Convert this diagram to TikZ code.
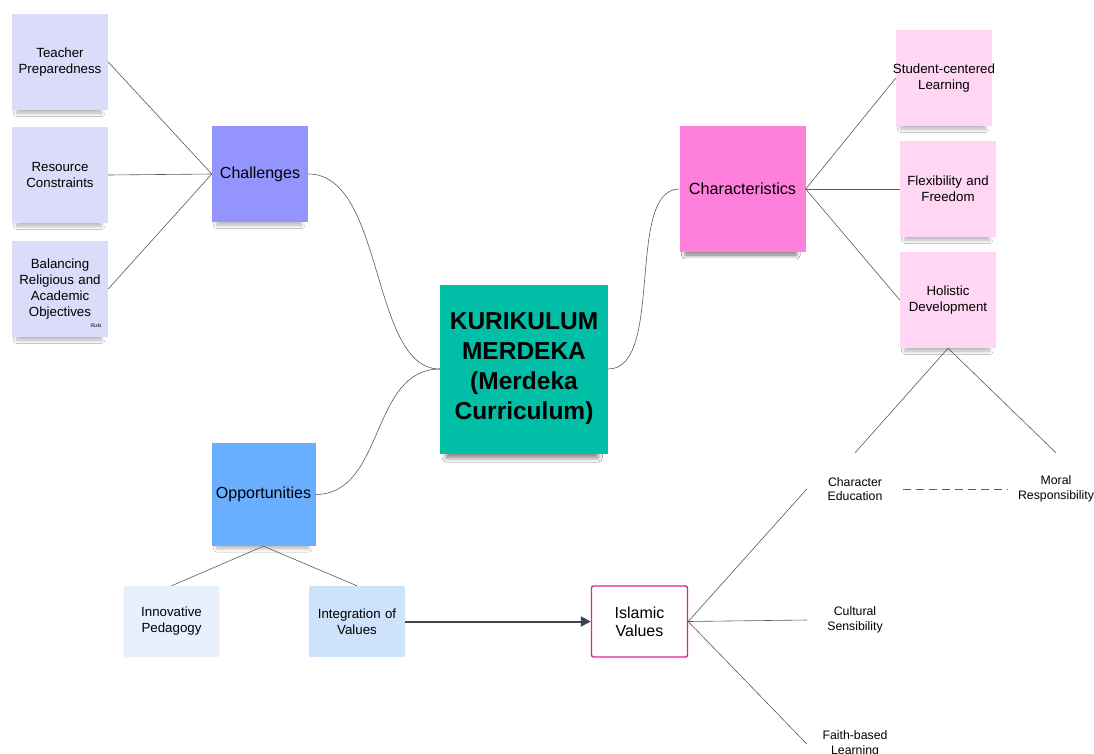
\documentclass[tikz,border=0pt]{standalone}
\usepackage{fontspec}
\setmainfont{Liberation Sans}
\usetikzlibrary{arrows.meta,shadows.blur}
\definecolor{lav}{HTML}{DCDCFA}
\definecolor{chal}{HTML}{9494FF}
\definecolor{teal}{HTML}{00BFA6}
\definecolor{charc}{HTML}{FF80DA}
\definecolor{pinkn}{HTML}{FFD6F3}
\definecolor{opp}{HTML}{6AAEFF}
\definecolor{innov}{HTML}{E8F0FE}
\definecolor{integ}{HTML}{CFE2FC}
\definecolor{islam}{HTML}{E0209F}
\definecolor{arrowc}{HTML}{3D4450}
\definecolor{linec}{HTML}{5A5A5A}
\tikzset{
  sticky/.style={minimum width=96pt, minimum height=96pt, inner sep=1pt, align=center, text width=94pt,
    font=\fontsize{13.3}{16}\selectfont,
    blur shadow={shadow xshift=-1pt, shadow yshift=-10pt, shadow blur steps=10, shadow blur radius=4pt,
      shadow scale=0.88, shadow opacity=30}},
  plain/.style={minimum width=94pt, minimum height=72pt, inner sep=1pt, align=center, text width=94pt,
    font=\fontsize{12.3}{14.5}\selectfont, fill=white},
  soft/.style={minimum width=95pt, minimum height=71pt, inner sep=1pt, align=center, text width=94pt,
    font=\fontsize{13.3}{16}\selectfont, rounded corners=2pt},
  conn/.style={draw=linec, line width=0.6pt},
}
\begin{document}
\begin{tikzpicture}[x=1pt,y=-1pt]
\useasboundingbox (0,0) rectangle (1094,753);
\clip (0,0) rectangle (1094,753);
\fill[white] (0,0) rectangle (1094,753);

% left notes
\node[sticky, fill=lav] (tp) at (60,62) {Teacher\\Preparedness};
\node[sticky, fill=lav] (rc) at (60,175) {Resource\\Constraints};
\node[sticky, fill=lav] (br) at (60,289) {Balancing\\Religious and\\Academic\\Objectives};
\node[font=\fontsize{5}{6}\selectfont, inner sep=0pt] (rizki) at (96,326) {Rizki};

\node[sticky, fill=chal, font=\fontsize{16}{18}\selectfont] (ch) at (260,174) {Challenges};

% center
\node[sticky, fill=teal, minimum width=168pt, minimum height=169pt, text width=166pt,
  blur shadow={shadow xshift=-2pt, shadow yshift=-14pt, shadow blur steps=10, shadow blur radius=5pt,
      shadow scale=0.9, shadow opacity=30},
  font=\fontsize{24.5}{30}\selectfont\bfseries] (km) at (524,369) {KURIKULUM\\MERDEKA\\(Merdeka\\Curriculum)};

% characteristics
\node[sticky, fill=charc, minimum width=125pt, minimum height=126pt, text width=124pt,
  blur shadow={shadow xshift=-2pt, shadow yshift=-12pt, shadow blur steps=10, shadow blur radius=4.5pt,
      shadow scale=0.88, shadow opacity=30},
  font=\fontsize{16.2}{18}\selectfont] (cs) at (742.5,189) {Characteristics};
\node[sticky, fill=pinkn] (sc) at (944,78) {\makebox[94pt]{Student-centered}\\Learning};
\node[sticky, fill=pinkn] (ff) at (948,189) {Flexibility and\\Freedom};
\node[sticky, fill=pinkn] (hd) at (948,300) {Holistic\\Development};

\node[plain] (ce) at (855,489) {Character\\Education};
\node[plain] (mr) at (1056,489) {Moral\\\makebox[94pt]{Responsibility}};
\node[plain] (cu) at (855,620) {Cultural\\Sensibility};
\node[plain] (fb) at (855,744) {Faith-based\\Learning};

% opportunities
\node[sticky, fill=opp, minimum width=103pt, minimum height=103pt, text width=102pt,
  font=\fontsize{16}{18}\selectfont] (op) at (263.5,494.5) {Opportunities};
\node[soft, fill=innov] (ip) at (171.5,621.5) {Innovative\\Pedagogy};
\node[soft, fill=integ] (iv) at (357,621.5) {Integration of\\Values};
\node[soft, fill=white, draw=islam, line width=1.4pt, minimum width=96pt, minimum height=71pt,
  font=\fontsize{16}{18}\selectfont] (iw) at (639.5,621.5) {Islamic\\Values};

% connectors
\draw[conn] (tp.east) -- (ch.west);
\draw[conn] (rc.east) -- (ch.west);
\draw[conn] (br.east) -- (ch.west);
\draw[conn] (ch.east) .. controls (385,174) and (370,369) .. (km.west);
\draw[conn] (op.east) .. controls (385,494) and (370,369) .. (km.west);
\draw[conn] (km.east) .. controls (665,369) and (625,189) .. (cs.west);
\draw[conn] (cs.east) -- (sc.west);
\draw[conn] (cs.east) -- (ff.west);
\draw[conn] (cs.east) -- (hd.west);
\draw[conn] (hd.south) -- (ce.north);
\draw[conn] (hd.south) -- (mr.north);
\draw[conn, dash pattern=on 8pt off 5pt, line width=0.9pt] (ce.east) -- (mr.west);
\draw[conn] (op.south) -- (ip.north);
\draw[conn] (op.south) -- (iv.north);
\draw[draw=arrowc, line width=2pt, -{Triangle[length=10pt,width=10pt]}] (iv.east) -- (iw.west);
\draw[conn] (iw.east) -- (ce.west);
\draw[conn] (iw.east) -- (cu.west);
\draw[conn] (iw.east) -- (fb.west);
\end{tikzpicture}
\end{document}
